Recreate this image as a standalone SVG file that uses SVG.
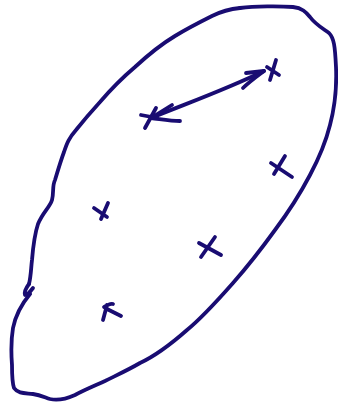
<svg xmlns="http://www.w3.org/2000/svg" width="338" height="404" viewBox="0 0 338 404">
<style>
.s{fill:none;stroke:#190c72;stroke-width:3.8;stroke-linecap:round;stroke-linejoin:round}
</style>
<rect width="338" height="404" fill="#fff"/>
<g id="outline">
<path class="s" d="M240,8 C255,6 280,6 293,7 C302,8 306,12 310,17 C315,24 322,28 329,33 C334,38 335,46 336,67 C337,90 334,110 330,125 C325,145 318,160 310,175 C300,194 290,210 275,230 C262,248 248,266 233,283 C218,300 203,317 187,330 C170,345 155,356 140,363 C128,370 117,375 105,381 C94,386 84,390 75,395 C66,399 58,401 50,399 C44,397 40,395 33,394 C26,393 18,394 14,388 C12,382 12,375 12,365 C11,352 11,340 13,328 C15,318 20,306 30,294"/>
<path class="s" d="M29,284 C26,288 24,292 25,295 C27,295 30,292 33,288"/>
<path class="s" d="M29,284 C31,276 31,268 32,260 C33,248 34,236 38,224 C43,212 50,207 52,200 C54,193 52,186 55,180 C58,170 61,160 64,152 C67,143 69,138 76,130 C84,120 90,113 100,102 C112,88 122,78 135,67 C148,55 160,45 175,36 C188,28 200,22 212,16 C222,11 230,9 240,8"/>
</g>
<g id="x1"><path class="s" d="M141,115 L157,118 M145,128 L156,108"/></g>
<g id="x2"><path class="s" d="M267,67 L279,75 M276,60 L270,80"/></g>
<g id="x3"><path class="s" d="M271,163 L292,177 M285,156 L274,174"/></g>
<g id="x4"><path class="s" d="M94,208 L107,217 M108,203 L101,219"/></g>
<g id="x5"><path class="s" d="M199,243 L221,255 M215,237 L201,257"/></g>
<g id="x6"><path class="s" d="M104,307 C107,305 110,303 113,304 M107,309 L121,316 M107,305 L103,320"/></g>
<g id="connectors">
<path class="s" d="M151,118 C185,104 225,90 264,71"/>
<path class="s" d="M151,118 L172,105 M151,118 C160,119 170,121 180,121"/>
<path class="s" d="M264,71 L246,73 M264,71 C256,77 249,82 243,88"/>
</g>
</svg>
